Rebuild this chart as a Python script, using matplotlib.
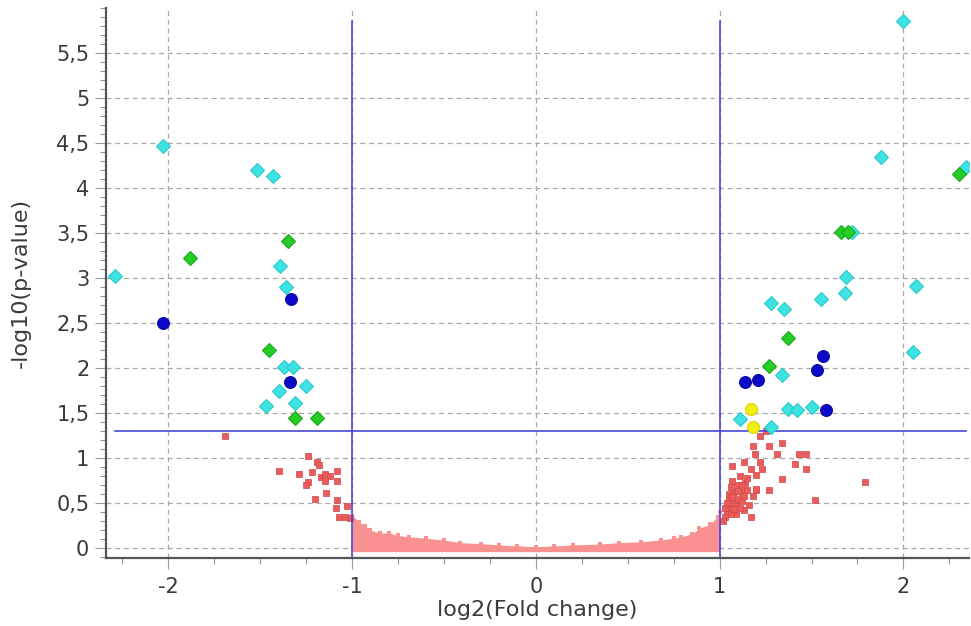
import numpy as np
import matplotlib.pyplot as plt
from matplotlib.ticker import MultipleLocator

# Data (log2 fold change, -log10 p-value)
cyan_x = [-2.29, -2.03, -1.52, -1.43, -1.39, -1.36, -1.37, -1.32, -1.40, -1.25, -1.47, -1.31,
          2.00, 1.88, 2.34, 1.72, 1.69, 1.68, 1.55, 1.28, 1.35, 2.07, 2.05, 1.34,
          1.37, 1.42, 1.50, 1.11, 1.28]
cyan_y = [3.02, 4.47, 4.20, 4.13, 3.13, 2.90, 2.01, 2.01, 1.75, 1.80, 1.58, 1.61,
          5.86, 4.34, 4.23, 3.51, 3.01, 2.83, 2.77, 2.72, 2.66, 2.91, 2.18, 1.92,
          1.55, 1.53, 1.57, 1.43, 1.34]

green_x = [-1.88, -1.35, -1.45, -1.31, -1.19, 2.30, 1.66, 1.70, 1.37, 1.27]
green_y = [3.22, 3.41, 2.20, 1.45, 1.45, 4.16, 3.51, 3.51, 2.33, 2.02]

blue_x = [-2.03, -1.33, -1.34, 1.56, 1.53, 1.14, 1.21, 1.58]
blue_y = [2.50, 2.77, 1.85, 2.13, 1.98, 1.85, 1.87, 1.53]

yellow_x = [1.17, 1.18]
yellow_y = [1.54, 1.34]

# scattered non-significant points outside |log2FC| > 1
red_x = [-1.69, -1.40, -1.24, -1.19, -1.18, -1.29, -1.22, -1.24, -1.25, -1.17, -1.15,
         -1.12, -1.15, -1.08, -1.08, -1.20, -1.14, -1.08, -1.09, -1.03, -1.07, -1.04, -1.01,
         1.18, 1.27, 1.34, 1.19, 1.31, 1.43, 1.47, 1.41, 1.47, 1.07, 1.13, 1.22, 1.23,
         1.20, 1.34, 1.20, 1.27, 1.79, 1.52, 1.17,
         1.04, 1.06, 1.08, 1.10, 1.05, 1.12, 1.08, 1.10, 1.14, 1.06, 1.15, 1.12, 1.03,
         1.02, 1.16, 1.18, 1.09, 1.13, 1.20, 1.11, 1.17, 1.07, 1.22, 1.25,
         1.03, 1.05, 1.07, 1.09, 1.04, 1.11, 1.13, 1.06, 1.10, 1.15, 1.08, 1.12]
red_y = [1.25, 0.86, 1.02, 0.96, 0.92, 0.82, 0.84, 0.73, 0.70, 0.79, 0.82,
         0.80, 0.74, 0.86, 0.75, 0.55, 0.61, 0.53, 0.44, 0.47, 0.34, 0.35, 0.33,
         1.13, 1.13, 1.17, 1.04, 1.04, 1.04, 1.04, 0.93, 0.88, 0.91, 0.96, 0.96, 0.88,
         0.81, 0.77, 0.65, 0.64, 0.73, 0.53, 0.34,
         0.40, 0.45, 0.50, 0.55, 0.55, 0.62, 0.62, 0.70, 0.72, 0.68, 0.78, 0.52, 0.35,
         0.30, 0.48, 0.58, 0.38, 0.42, 0.66, 0.80, 0.88, 0.75, 1.25, 1.30,
         0.45, 0.60, 0.57, 0.47, 0.50, 0.44, 0.58, 0.38, 0.63, 0.65, 0.43, 0.70]

# upper edge of the dense band of points between -1 and 1
band_x = [-1.0, -0.96, -0.93, -0.9, -0.85, -0.8, -0.75, -0.69, -0.6, -0.5, -0.41, -0.3,
          -0.2, -0.1, 0.0, 0.1, 0.2, 0.35, 0.45, 0.57, 0.68, 0.75, 0.79, 0.85, 0.89,
          0.95, 0.99, 1.0]
band_y = [0.36, 0.29, 0.24, 0.20, 0.165, 0.17, 0.14, 0.125, 0.11, 0.09, 0.06, 0.05,
          0.035, 0.025, 0.015, 0.025, 0.035, 0.045, 0.06, 0.07, 0.09, 0.11, 0.125, 0.16,
          0.22, 0.27, 0.35, 0.40]

yticks = [0, 0.5, 1, 1.5, 2, 2.5, 3, 3.5, 4, 4.5, 5, 5.5]
ytick_labels = ["0", "0,5", "1", "1,5", "2", "2,5", "3", "3,5", "4", "4,5", "5", "5,5"]
xticks = [-2, -1, 0, 1, 2]
xtick_labels = ["-2", "-1", "0", "1", "2"]

fc_cut = 1.0
p_cut = -np.log10(0.05)

plt.rcParams['font.family'] = 'DejaVu Sans'
fig = plt.figure(figsize=(9.71, 6.26), dpi=100)
ax = fig.add_axes([106 / 971, 1 - 558 / 626, (969 - 106) / 971, (558 - 8) / 626])

all_x = cyan_x + green_x + blue_x + yellow_x + red_x
all_y = cyan_y + green_y + blue_y + yellow_y + red_y
ymax = max(all_y)

# dense band
ax.fill_between(band_x, -0.04, band_y, color="#f99191", lw=0, zorder=2)
ax.scatter(band_x, band_y, s=10, marker='s', color="#f99191", lw=0, zorder=2)
ax.scatter(red_x, red_y, s=14, marker='s', color="#ea5c5c", edgecolors="#d04848", lw=0.5, zorder=2)

# threshold lines
line_col = "#4848d8"
ax.plot([-fc_cut, -fc_cut], [-0.2, ymax], color=line_col, lw=1.2, zorder=3)
ax.plot([fc_cut, fc_cut], [-0.2, ymax], color=line_col, lw=1.2, zorder=3)
ax.plot([min(all_x), max(all_x)], [p_cut, p_cut], color=line_col, lw=1.2, zorder=3)

ax.plot(cyan_x, cyan_y, 'D', ms=7.5, color="#3de3e3", mec="#2cc9c9", mew=0.8, zorder=4)
ax.plot(green_x, green_y, 'D', ms=7.5, color="#25cc25", mec="#1aa81a", mew=0.8, zorder=4)
ax.plot(blue_x, blue_y, 'o', ms=8.5, color="#0a0ac8", mec="#06069a", mew=0.8, zorder=4)
ax.plot(yellow_x, yellow_y, 'o', ms=8.5, color="#f2ee10", mec="#d8d400", mew=0.8, zorder=4)

ax.set_xlim(-2.339, 2.357)
ax.set_ylim(-0.11, 6.0)
ax.set_xticks(xticks)
ax.set_xticklabels(xtick_labels)
ax.set_yticks(yticks)
ax.set_yticklabels(ytick_labels)
ax.xaxis.set_minor_locator(MultipleLocator(0.25))
ax.yaxis.set_minor_locator(MultipleLocator(0.1))

ax.grid(True, which='major', color="#a8a8a8", linestyle=(0, (4, 3)), lw=0.9, zorder=1)
ax.set_axisbelow(True)

for s in ['top', 'right']:
    ax.spines[s].set_visible(False)
for s in ['left', 'bottom']:
    ax.spines[s].set_color("#555555")
    ax.spines[s].set_linewidth(1.6)

ax.tick_params(axis='both', which='major', colors="#999999", labelcolor="#3a3a3a",
               labelsize=15, length=8, width=0.8)
ax.tick_params(axis='both', which='minor', colors="#999999", length=4, width=0.8)
ax.tick_params(axis='x', which='major', pad=6)
ax.tick_params(axis='y', which='major', pad=4)

ax.set_xlabel("log2(Fold change)", fontsize=16, color="#3a3a3a", labelpad=2)
ax.set_ylabel("-log10(p-value)", fontsize=16, color="#3a3a3a", labelpad=18)

fig.savefig("out.png", dpi=100)
